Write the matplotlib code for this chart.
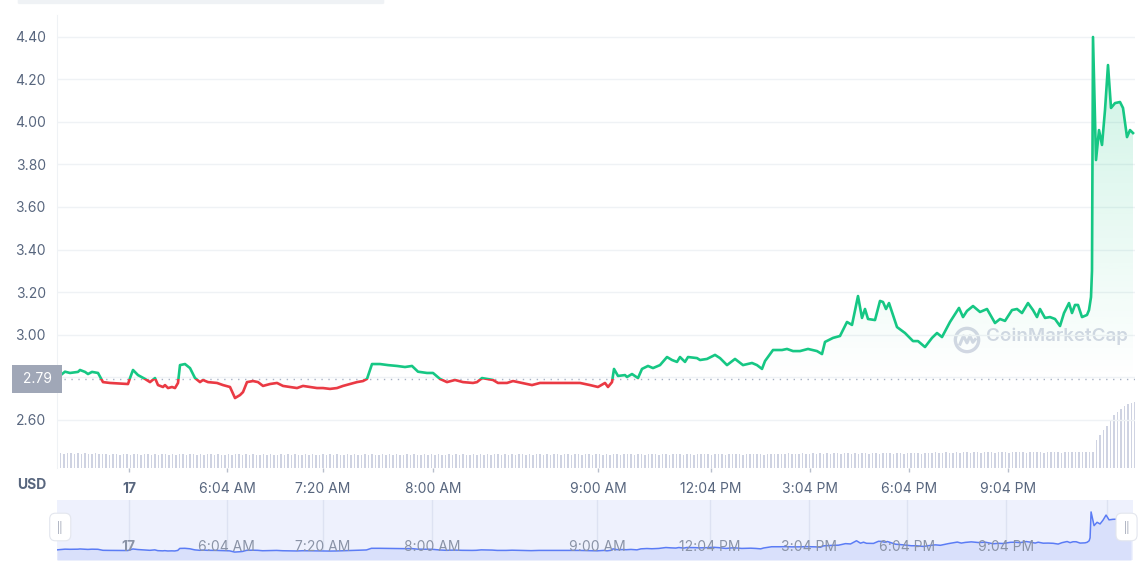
import matplotlib

matplotlib.use("Agg")
import matplotlib.pyplot as plt
import numpy as np
from matplotlib.patches import Circle, FancyBboxPatch, PathPatch, Rectangle
from matplotlib.path import Path
from matplotlib.transforms import blended_transform_factory

plt.rcParams["font.family"] = ["Inter", "DejaVu Sans"]

# price samples (step = position along the time axis)
step = [0, 8, 13, 21, 23, 28, 31, 35, 41, 46, 53, 71, 73, 76, 81, 88, 93, 98, 101, 106,
        108, 111, 115, 118, 121, 123, 128, 133, 138, 143, 146, 151, 160, 166, 173, 178, 183, 186, 190, 196,
        201, 206, 213, 220, 226, 233, 240, 246, 253, 260, 266, 273, 280, 286, 293, 300, 306, 310, 315, 323,
        331, 340, 348, 355, 361, 370, 376, 383, 390, 398, 406, 416, 420, 425, 436, 441, 450, 456, 465, 475,
        483, 496, 510, 523, 533, 541, 548, 551, 555, 557, 561, 568, 570, 575, 581, 585, 591, 596, 603, 610,
        615, 620, 623, 628, 631, 640, 643, 650, 658, 663, 670, 678, 686, 695, 700, 705, 708, 716, 725, 730,
        736, 743, 751, 760, 765, 768, 776, 783, 790, 795, 801, 805, 808, 811, 818, 823, 826, 829, 832, 840,
        848, 856, 861, 868, 875, 880, 885, 893, 902, 906, 910, 916, 923, 930, 938, 943, 948, 955, 960, 965,
        971, 976, 980, 983, 988, 993, 998, 1003, 1007, 1012, 1015, 1018, 1021, 1025, 1030, 1032, 1034, 1035, 1036, 1039,
        1042, 1045, 1048, 1051, 1054, 1058, 1063, 1066, 1070, 1073, 1076]
price = [2.795, 2.825, 2.819, 2.824, 2.833, 2.824, 2.814, 2.824, 2.819, 2.776, 2.772, 2.767, 2.795, 2.833, 2.809, 2.791, 2.776, 2.795, 2.762, 2.753,
         2.762, 2.748, 2.753, 2.748, 2.772, 2.856, 2.861, 2.842, 2.795, 2.776, 2.786, 2.776, 2.772, 2.762, 2.753, 2.701, 2.715, 2.729, 2.776, 2.781,
         2.776, 2.758, 2.767, 2.772, 2.758, 2.753, 2.748, 2.758, 2.753, 2.748, 2.748, 2.744, 2.748, 2.758, 2.767, 2.776, 2.781, 2.791, 2.861, 2.861,
         2.856, 2.852, 2.847, 2.852, 2.825, 2.819, 2.819, 2.791, 2.776, 2.786, 2.776, 2.772, 2.776, 2.795, 2.786, 2.772, 2.772, 2.781, 2.772, 2.762,
         2.772, 2.772, 2.772, 2.772, 2.762, 2.753, 2.772, 2.753, 2.776, 2.838, 2.805, 2.809, 2.800, 2.814, 2.795, 2.838, 2.852, 2.842, 2.856, 2.894,
         2.880, 2.871, 2.894, 2.871, 2.894, 2.889, 2.880, 2.885, 2.904, 2.889, 2.856, 2.885, 2.856, 2.866, 2.856, 2.838, 2.875, 2.927, 2.927, 2.932,
         2.922, 2.922, 2.932, 2.922, 2.908, 2.965, 2.984, 2.993, 3.059, 3.045, 3.181, 3.078, 3.120, 3.073, 3.068, 3.158, 3.153, 3.120, 3.148, 3.035,
         3.007, 2.969, 2.969, 2.941, 2.984, 3.007, 2.988, 3.059, 3.125, 3.082, 3.111, 3.134, 3.106, 3.120, 3.054, 3.073, 3.064, 3.115, 3.120, 3.101,
         3.148, 3.115, 3.082, 3.120, 3.078, 3.082, 3.073, 3.040, 3.101, 3.148, 3.101, 3.139, 3.139, 3.082, 3.092, 3.115, 3.176, 3.300, 4.400, 3.821,
         3.962, 3.892, 4.056, 4.268, 4.066, 4.089, 4.094, 4.066, 3.929, 3.962, 3.948]
open_price = 2.79

# volume bars, one every 3.5 steps
volume = [14, 15, 14, 15, 15, 14, 15, 14, 15, 14, 14, 15, 14, 14, 14, 13, 14, 14, 13, 14,
          14, 13, 14, 14, 13, 14, 14, 13, 14, 13, 14, 14, 13, 14, 13, 14, 14, 13, 14, 14,
          13, 14, 13, 14, 14, 13, 14, 13, 13, 14, 13, 14, 14, 13, 14, 13, 14, 13, 13, 14,
          13, 14, 13, 13, 14, 13, 14, 13, 14, 13, 13, 14, 13, 14, 13, 13, 14, 13, 14, 13,
          14, 13, 13, 14, 13, 14, 13, 13, 14, 13, 14, 13, 13, 14, 13, 14, 13, 14, 13, 13,
          14, 13, 14, 13, 13, 14, 13, 14, 13, 14, 13, 13, 14, 13, 14, 13, 14, 13, 13, 14,
          13, 14, 13, 14, 13, 14, 14, 13, 14, 13, 14, 13, 14, 14, 13, 14, 13, 14, 14, 13,
          14, 13, 14, 14, 13, 14, 14, 13, 14, 14, 13, 14, 14, 13, 14, 14, 13, 14, 13, 14,
          14, 13, 14, 14, 14, 13, 14, 14, 13, 14, 14, 14, 13, 14, 14, 13, 14, 14, 14, 13,
          14, 14, 13, 14, 14, 14, 14, 13, 14, 14, 14, 13, 14, 14, 14, 14, 13, 14, 14, 14,
          14, 14, 13, 14, 14, 14, 14, 14, 14, 15, 14, 14, 14, 15, 14, 14, 15, 14, 15, 14,
          15, 14, 15, 15, 14, 15, 15, 14, 15, 14, 15, 15, 14, 15, 15, 14, 15, 15, 15, 14,
          15, 15, 14, 15, 15, 15, 15, 14, 15, 15, 15, 16, 15, 15, 16, 15, 15, 16, 15, 16,
          16, 15, 16, 16, 15, 16, 16, 16, 15, 16, 16, 16, 15, 16, 16, 16, 16, 15, 16, 16,
          16, 16, 15, 16, 16, 16, 16, 15, 16, 16, 16, 16, 16, 16, 16, 16, 16,
          28, 33, 38, 42, 47, 53, 56, 59, 62, 64, 65, 66]
volume_gap = 3.5

tick_steps = [72, 170, 266, 376, 541, 654, 753, 852, 951]
tick_labels = ["17", "6:04 AM", "7:20 AM", "8:00 AM", "9:00 AM", "12:04 PM", "3:04 PM", "6:04 PM", "9:04 PM"]
nav_grid_steps = tick_steps + [1052]
price_ticks = [2.60, 2.80, 3.00, 3.20, 3.40, 3.60, 3.80, 4.00, 4.20, 4.40]

GREEN = "#16c784"
RED = "#ea3943"
TEXT = "#58667e"
GRID = "#eff2f5"

W, H = 1140, 569
fig = plt.figure(figsize=(W / 100, H / 100), dpi=100)
fig.patch.set_facecolor("white")

x0, x1 = 0, 1078
ax = fig.add_axes([57 / W, 101 / H, 1078 / W, 453 / H])
ax_vol = ax.twinx()
ax.set_zorder(ax_vol.get_zorder() + 1)
ax.patch.set_visible(False)

# volume
ax_vol.bar(np.arange(len(volume)) * volume_gap, volume, width=1.1, color="#cfd3e2", linewidth=0)
ax_vol.set_ylim(0, 453)
ax_vol.set_xlim(x0, x1)
ax_vol.axis("off")

ax.set_xlim(x0, x1)
ax.set_ylim(2.3718, 4.5035)

# gradient fills, above the open price green, below it red
t = np.array(step, dtype=float)
p = np.array(price)


def gradient_fill(where, rgb, y_lo, y_hi, a_lo, a_hi):
    coll = ax.fill_between(t, p, open_price, where=where, interpolate=True, facecolor="none", edgecolor="none")
    paths = coll.get_paths()
    if not paths:
        return
    clip = PathPatch(Path.make_compound_path(*paths), transform=ax.transData, facecolor="none", edgecolor="none")
    ax.add_patch(clip)
    grad = np.zeros((256, 1, 4))
    grad[..., :3] = matplotlib.colors.to_rgb(rgb)
    grad[:, 0, 3] = np.linspace(a_lo, a_hi, 256)
    im = ax.imshow(grad, extent=(x0, x1, y_lo, y_hi), origin="lower", aspect="auto", zorder=1)
    im.set_clip_path(clip)


gradient_fill(p >= open_price, GREEN, open_price, 4.40, 0.0, 0.22)
gradient_fill(p <= open_price, RED, 2.70, open_price, 0.06, 0.0)

up_clip = Rectangle((x0, open_price), x1 - x0, 5, transform=ax.transData)
down_clip = Rectangle((x0, 0), x1 - x0, open_price, transform=ax.transData)
line_up, = ax.plot(t, p, color=GREEN, lw=1.9, solid_joinstyle="round", zorder=3)
line_up.set_clip_path(up_clip)
line_down, = ax.plot(t, p, color=RED, lw=1.9, solid_joinstyle="round", zorder=3)
line_down.set_clip_path(down_clip)

ax.axhline(open_price, color="#a6b0c3", lw=1, linestyle=(0, (1, 4)), zorder=2)

# axes styling; the 2.80 label sits under the current-price box
ax.set_yticks(price_ticks)
ax.set_yticklabels(["" if abs(v - 2.80) < 1e-9 else f"{v:.2f}" for v in price_ticks])
ax.yaxis.grid(True, color=GRID, lw=1)
ax.set_axisbelow(True)
ax.tick_params(axis="y", length=0, pad=8, labelsize=10, labelcolor=TEXT)
ax.set_xticks(tick_steps)
ax.set_xticklabels(tick_labels)
ax.tick_params(axis="x", length=3, width=1, color="#b8bfcc", pad=7, labelsize=10, labelcolor=TEXT)
ax.get_xticklabels()[0].set_fontweight("bold")
for side in ("top", "right", "bottom"):
    ax.spines[side].set_visible(False)
ax.spines["left"].set_color(GRID)

blend = blended_transform_factory(ax.transAxes, ax.transData)
ax.text(-0.0015, open_price, " 2.79 ", transform=blend, ha="right", va="center", color="white", fontsize=10,
        bbox=dict(boxstyle="square,pad=0.48", fc="#a0a7b7", ec="none"), zorder=5)
ax.text(-0.023, -0.038, "USD", transform=ax.transAxes, ha="center", va="center", fontsize=10,
        fontweight="bold", color=TEXT)

# watermark
ax.text(0.862, 2.99, "CoinMarketCap", transform=blend, ha="left", va="center", fontsize=13.5,
        fontweight="semibold", color="#d4d8e4", zorder=0)
logo = fig.add_axes([953 / W, 215 / H, 28 / W, 28 / H])
logo.set_xlim(-1.2, 1.2)
logo.set_ylim(-1.2, 1.2)
logo.set_aspect("equal")
logo.axis("off")
logo.add_patch(Circle((0, 0), 1.0, fill=False, lw=2.4, ec="#d4d8e4"))
logo.plot([-0.6, -0.3, 0.0, 0.25, 0.5, 0.7], [-0.35, 0.35, -0.25, 0.35, -0.2, 0.05], color="#d4d8e4", lw=2.2)

# top strip
fig.patches.append(FancyBboxPatch((20 / W, 1 - 3 / H), 362 / W, 8 / H, boxstyle="round,pad=0.002",
                                  transform=fig.transFigure, fc="#eff2f5", ec="none"))

# navigator
nav = fig.add_axes([57 / W, 9 / H, 1076 / W, 60 / H])
nav.set_facecolor("#eef1fd")
nav.set_xlim(x0, x1)
nav.set_ylim(2.366, 4.906)
for s in nav_grid_steps:
    nav.axvline(s, color="#dde2f2", lw=1, zorder=0)
nav.fill_between(t, p, 2.366, color="#d9e0fb", lw=0, zorder=1)
nav.plot(t, p, color="#5b7cf5", lw=1.1, zorder=2)
for s, lab in zip(tick_steps, tick_labels):
    nav.text(s, 0.22, lab, transform=blended_transform_factory(nav.transData, nav.transAxes), ha="center",
             va="center", fontsize=10, color="#8a93a6", fontweight="bold" if lab == "17" else "normal", zorder=3)
nav.set_xticks([])
nav.set_yticks([])
for sp in nav.spines.values():
    sp.set_visible(False)
for hx in (0.003, 0.994):
    nav.text(hx, 0.55, "||", transform=nav.transAxes, ha="center", va="center", fontsize=7, color="#9aa1b3",
             bbox=dict(boxstyle="round,pad=0.75,rounding_size=0.6", fc="white", ec="#e3e6ee", lw=0.8), zorder=5)

fig.savefig("out.png", dpi=100)
